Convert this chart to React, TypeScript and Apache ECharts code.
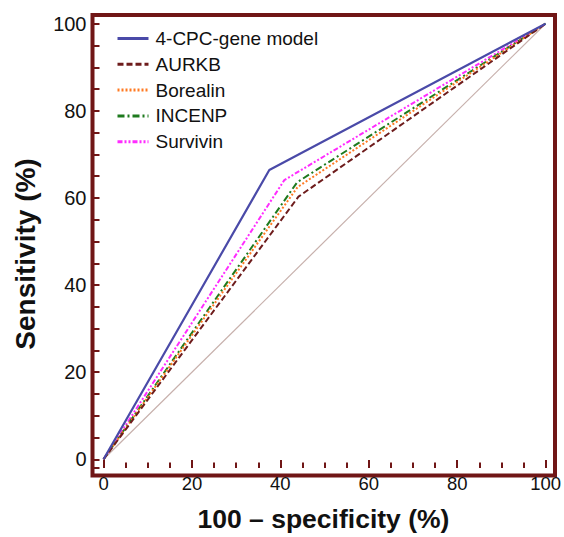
import React, { useEffect, useRef } from "react";
import * as echarts from "echarts";

const seriesNames = ["4-CPC-gene model", "AURKB", "Borealin", "INCENP", "Survivin"];
const fprValues = [
  [0, 37.5, 100],
  [0, 44.1, 100],
  [0, 43.9, 100],
  [0, 43.8, 100],
  [0, 40.9, 100],
];
const tprValues = [
  [0, 66.4, 100],
  [0, 60.3, 100],
  [0, 62.5, 100],
  [0, 63.6, 100],
  [0, 64.1, 100],
];
const diagonalX = [0, 100];
const diagonalY = [0, 100];
const majorTicks = [0, 20, 40, 60, 80, 100];
const minorTicks = [5, 10, 15, 25, 30, 35, 45, 50, 55, 65, 70, 75, 85, 90, 95];
const xTitle = "100 \u2013 specificity (%)";
const yTitle = "Sensitivity (%)";

const colors = ["#4a4aa8", "#6e1c1c", "#ff7a22", "#1e7a1e", "#ff2cff"];
const dashes: any[] = ["solid", [6, 3], [2, 2], [7, 3, 2, 3], [5, 2, 2, 2, 2, 2]];

const FRAME = "#701616";
const FONT = "'Liberation Sans', Arial, Helvetica, sans-serif";

const GRID = { left: 92.5, right: 9, top: 15, bottom: 61.5 };
const W = 564;
const H = 537;

export default function App() {
  const ref = useRef<HTMLDivElement>(null);
  useEffect(() => {
    if (!ref.current) return;
    const chart = echarts.init(ref.current, undefined, { renderer: "svg" });
    const mainSeries = seriesNames.map((name, i) => ({
      name,
      type: "line",
      xAxisIndex: 0,
      yAxisIndex: 0,
      data: fprValues[i].map((x, j) => [x, tprValues[i][j]]),
      showSymbol: false,
      symbol: "none",
      lineStyle: { color: colors[i], width: i === 0 ? 2.2 : 2, type: dashes[i] },
      itemStyle: { color: colors[i] },
      z: 10 - i,
    }));
    const tick = (vals: number[] | null, len: number) => {
      const t: any = {
        show: true,
        inside: true,
        length: len,
        lineStyle: { color: FRAME, width: 2 },
      };
      if (vals) t.customValues = vals;
      return t;
    };
    const label = (size: number) => ({
      show: true,
      customValues: majorTicks,
      fontSize: size,
      color: "#111",
      margin: 6,
      fontFamily: FONT,
    });
    chart.setOption({
      animation: false,
      textStyle: { fontFamily: FONT },
      grid: { ...GRID, show: false },
      legend: {
        data: seriesNames,
        orient: "vertical",
        left: 116,
        top: 29,
        padding: 0,
        itemWidth: 31,
        itemHeight: 14,
        itemGap: 6.8,
        textStyle: { fontSize: 19, color: "#111", fontFamily: FONT, padding: [0, 0, 0, 2] },
        lineStyle: { width: 3 },
        itemStyle: { opacity: 0, color: "transparent", borderWidth: 0 },
      },
      graphic: [
        {
          type: "rect",
          z: -1,
          silent: true,
          shape: {
            x: GRID.left,
            y: GRID.top,
            width: W - GRID.left - GRID.right,
            height: H - GRID.top - GRID.bottom,
          },
          style: { fill: "none", stroke: FRAME, lineWidth: 4 },
        },
        {
          type: "text",
          x: 25.5,
          y: 254,
          rotation: Math.PI / 2,
          silent: true,
          style: {
            text: yTitle,
            fontSize: 28,
            fontWeight: "bold",
            fontFamily: FONT,
            fill: "#111",
            align: "center",
            verticalAlign: "middle",
          },
        },
      ],
      xAxis: [
        {
          type: "value",
          position: "bottom",
          min: -2.5,
          max: 102,
          splitLine: { show: false },
          axisLine: { show: false, onZero: false },
          name: xTitle,
          nameLocation: "middle",
          nameGap: 37,
          nameTextStyle: { fontSize: 26.5, fontWeight: "bold", color: "#111", fontFamily: FONT },
          axisTick: tick(majorTicks, 8),
          axisLabel: label(18.5),
        },
        {
          type: "value",
          position: "bottom",
          min: -2.5,
          max: 102,
          splitLine: { show: false },
          axisLine: { show: false, onZero: false },
          axisTick: tick(minorTicks, 5.5),
          axisLabel: { show: false },
        },
      ],
      yAxis: [
        {
          type: "value",
          position: "left",
          min: -2,
          max: 102,
          splitNumber: 20,
          splitLine: { show: false },
          axisLine: { show: false, onZero: false },
          axisTick: tick(null, 7),
          axisLabel: label(20),
        },
      ],
      series: [
        {
          name: "reference",
          type: "line",
          data: diagonalX.map((x, j) => [x, diagonalY[j]]),
          showSymbol: false,
          symbol: "none",
          lineStyle: { color: "#c7b0ac", width: 1.2 },
          z: 1,
          silent: true,
        },
        ...mainSeries,
      ],
    });
    return () => chart.dispose();
  }, []);
  return (
    <div
      ref={ref}
      style={{ position: "absolute", left: 0, top: 0, width: W, height: H, background: "#fff" }}
    />
  );
}
